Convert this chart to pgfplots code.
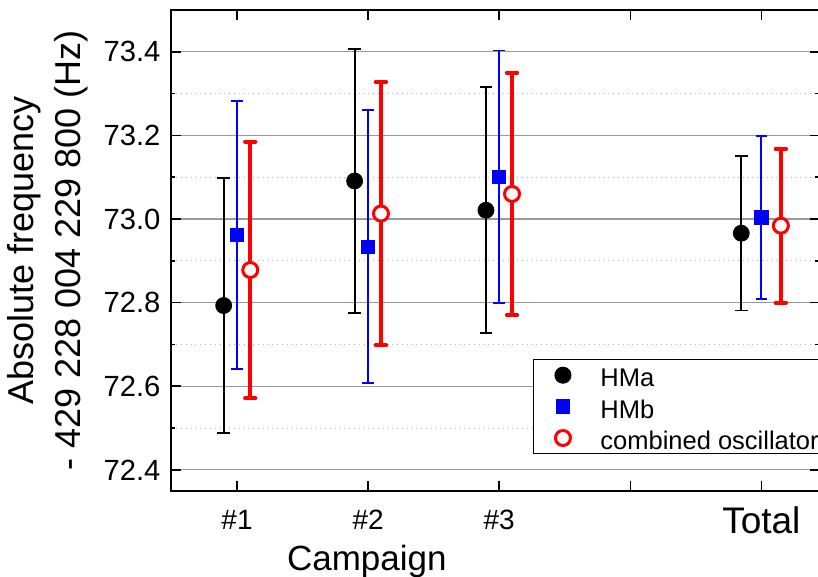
\documentclass[border=0pt]{standalone}
\usepackage{fontspec}
\setmainfont{Liberation Sans}
\usepackage{pgfplots}
\pgfplotsset{compat=1.18}

\begin{document}
\begin{tikzpicture}
\begin{axis}[
  scale only axis, width=323.75pt, height=240.35pt,
  xmin=0.5, xmax=5.44, ymin=72.35, ymax=73.5,
  axis line style={line width=1pt},
  xtick={1,2,3,4,5},
  xticklabels={\#1,\#2,\#3,{},{\fontsize{18.5}{21}\selectfont\raisebox{0pt}[\dimexpr\height-1.5pt\relax]{Total}}},
  xticklabel style={font=\fontsize{14}{16}\selectfont, inner sep=0pt, yshift=-9.4pt},
  ytick={72.4,72.6,72.8,73.0,73.2,73.4},
  yticklabels={72.4,72.6,72.8,73.0,73.2,73.4},
  yticklabel style={font=\fontsize{14.6}{18}\selectfont, xshift=-2pt},
  minor ytick={72.5,72.7,72.9,73.1,73.3},
  tick align=inside,
  major tick length=4.75pt, minor tick length=2pt,
  every tick/.style={black, line width=0.75pt},
  ymajorgrids, yminorgrids,
  major grid style={color=black!40, line width=0.6pt},
  minor grid style={color=black!30, dotted, line width=0.5pt},
  clip=false,
  legend style={at={(0.559,0.274)}, anchor=north west, draw=black, line width=0.5pt,
    font=\fontsize{12.75}{15}\selectfont, inner xsep=1.75pt, inner ysep=0pt, row sep=0pt,
    nodes={text height=11.5pt, text depth=0pt, inner ysep=2.1pt}},
  legend cell align=left,
  legend image code/.code={\path[draw=none, fill=none] (0pt,-1pt) rectangle (29.5pt,1pt); \draw[#1] plot coordinates {(12.75pt,0pt)};},
]
\addplot[only marks, mark=*, mark size=4pt, black, mark options={fill=black, draw=black},
  error bars/.cd, y dir=both, y explicit,
  error bar style={line width=0.9pt, black},
  error mark options={rotate=90, mark size=3.2pt, line width=0.9pt, black}]
  coordinates {
  (0.898,72.793) +- (0,0.305)
  (1.897,73.091) +- (0,0.315)
  (2.899,73.021) +- (0,0.294)
  (4.847,72.966) +- (0,0.185)
  };
\addlegendentry{HMa}
\addplot[only marks, mark=square*, mark size=3.3pt, blue, mark options={fill=blue, draw=blue},
  error bars/.cd, y dir=both, y explicit,
  error bar style={line width=0.9pt, blue},
  error mark options={rotate=90, mark size=2.9pt, line width=0.9pt, blue}]
  coordinates {
  (1,72.962) +- (0,0.320)
  (2,72.934) +- (0,0.327)
  (3,73.101) +- (0,0.302)
  (5,73.004) +- (0,0.195)
  };
\addlegendentry{HMb}
\addplot[only marks, mark=*, mark size=3.75pt, red, mark options={fill=white, draw=red, line width=1.5pt},
  error bars/.cd, y dir=both, y explicit,
  error bar style={line width=2.2pt, red},
  error mark options={rotate=90, mark size=2.6pt, line width=2pt, red, line cap=round}]
  coordinates {
  (1.101,72.878) +- (0,0.307)
  (2.098,73.013) +- (0,0.315)
  (3.098,73.060) +- (0,0.290)
  (5.149,72.984) +- (0,0.184)
  };
\addlegendentry{combined oscillator}
\coordinate (ylab) at (rel axis cs:0,0.5);
\coordinate (xlab) at (rel axis cs:0.3016,0);
\coordinate (SW) at (rel axis cs:0,0);
\coordinate (NE) at (rel axis cs:1,1);
\end{axis}
\node[rotate=90, anchor=south, inner sep=0pt, align=center, font=\fontsize{18}{23.65}\selectfont] at ([xshift=-41.6pt]ylab) {Absolute frequency\\- 429 228 004 229 800 (Hz)};
\node[anchor=base, inner sep=0pt, font=\fontsize{17.5}{20}\selectfont] at ([yshift=-39.65pt]xlab) {Campaign};
\pgfresetboundingbox
\path[use as bounding box] ([xshift=-85.75pt,yshift=-42.65pt]SW) rectangle ([xshift=-0.5pt,yshift=5pt]NE);
\end{tikzpicture}
\end{document}
